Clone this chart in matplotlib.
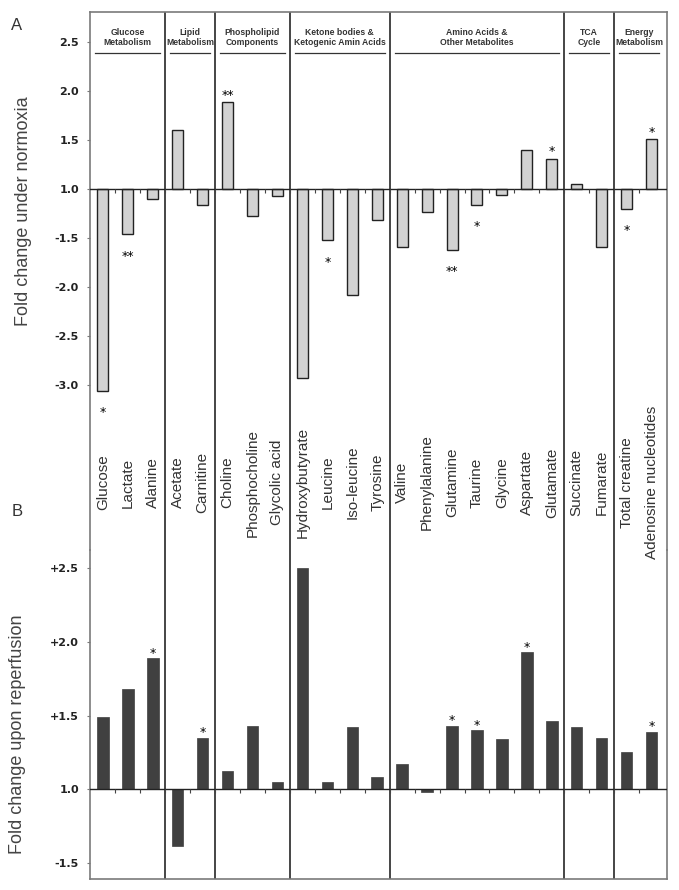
import matplotlib
matplotlib.use('Agg')
import numpy as np
import matplotlib.pyplot as plt

# metabolites, in plotting order
metabolites = ["Glucose", "Lactate", "Alanine",
               "Acetate", "Carnitine",
               "Choline", "Phosphocholine", "Glycolic acid",
               "Hydroxybutyrate", "Leucine", "Iso-leucine", "Tyrosine",
               "Valine", "Phenylalanine", "Glutamine", "Taurine", "Glycine", "Aspartate", "Glutamate",
               "Succinate", "Fumarate",
               "Total creatine", "Adenosine nucleotides"]

groups = ["Glucose\nMetabolism", "Lipid\nMetabolism", "Phospholipid\nComponents",
          "Ketone bodies &\nKetogenic Amin Acids", "Amino Acids &\nOther Metabolites",
          "TCA\nCycle", "Energy\nMetabolism"]
group_sizes = [3, 2, 3, 4, 7, 2, 2]

# fold changes
normoxia = [-3.06, -1.46, -1.10,
            1.60, -1.16,
            1.89, -1.28, -1.07,
            -2.93, -1.52, -2.08, -1.32,
            -1.59, -1.23, -1.62, -1.16, -1.06, 1.40, 1.31,
            1.05, -1.59,
            -1.20, 1.51]
reperfusion = [1.49, 1.68, 1.89,
               -1.39, 1.35,
               1.12, 1.43, 1.05,
               2.50, 1.05, 1.42, 1.08,
               1.17, -1.02, 1.43, 1.40, 1.34, 1.93, 1.46,
               1.42, 1.35,
               1.25, 1.39]

sig_normoxia = ["*", "**", "", "", "", "**", "", "", "", "*", "", "",
                "", "", "**", "*", "", "", "*", "", "", "*", "*"]
sig_reperfusion = ["", "", "*", "", "*", "", "", "", "", "", "", "",
                   "", "", "*", "*", "", "*", "", "", "", "", "*"]

ticks_a = [-3.0, -2.5, -2.0, -1.5, 1.0, 1.5, 2.0, 2.5]
ticks_b = [-1.5, 1.0, 1.5, 2.0, 2.5]
tick_labels_b = ["-1.5", "1.0", "+1.5", "+2.0", "+2.5"]


def to_axis(v):
    # fold change axis skips -1..1, so 1.0 / -1.0 both sit on the zero line
    v = np.asarray(v, dtype=float)
    return np.where(v >= 1, v - 1, v + 1)


frame_col = '#7a7a7a'
sep_col = '#454545'
text_col = '#333333'

fig = plt.figure(figsize=(6.79, 8.90), dpi=100)
axB = fig.add_axes([0.1325, 0.01236, 0.8498, 0.3697])
axA = fig.add_axes([0.1325, 0.382, 0.8498, 0.6045])
axA.patch.set_visible(False)
axB.patch.set_visible(False)

x = np.arange(len(metabolites))
bounds = np.cumsum(group_sizes)[:-1] - 0.5
starts = np.concatenate([[0], np.cumsum(group_sizes)[:-1]]) - 0.5
ends = np.cumsum(group_sizes) - 0.5

for ax in (axA, axB):
    ax.set_xlim(-0.52, 22.62)
    ax.set_xticks([])
    for b in bounds:
        ax.axvline(b, color=sep_col, lw=1.4, zorder=1)
    for s in ax.spines.values():
        s.set_color(frame_col)
        s.set_linewidth(1.2)
    ax.axhline(0, color='#222222', lw=1.0, zorder=3)
    ax.plot(x[:-1] + 0.5, np.zeros(len(x) - 1), ls='none', marker=3, ms=3,
            mew=0.8, color='#444444', zorder=3)
    ax.tick_params(axis='y', length=2, width=0.8, color=frame_col, pad=6,
                   labelsize=8, labelcolor='#222222')

# ---- panel A
axA.set_ylim(-3.69, 1.81)
axA.spines['bottom'].set_visible(False)
hA = to_axis(normoxia)
axA.bar(x, hA, 0.44, color='#d2d2d2', edgecolor='#222222', lw=1.0, zorder=2)
axA.set_yticks(to_axis(ticks_a))
axA.set_yticklabels(["%.1f" % t for t in ticks_a], fontweight='bold')
axA.set_ylabel("Fold change under normoxia", fontsize=13, color='#444444',
               family='Liberation Sans')
axA.yaxis.set_label_coords(-0.1, 0.63)

for xi, h, s in zip(x, hA, sig_normoxia):
    if s:
        dy = 2.5 if h > 0 else -18.5
        axA.annotate(s, (xi, h), xytext=(0, dy), textcoords='offset points',
                     ha='center', va='baseline', fontsize=9, color='black')

for g, s0, e0 in zip(groups, starts, ends):
    axA.text((s0 + e0) / 2, 1.55, g, ha='center', va='center', fontsize=6.2,
             fontweight='bold', family='Liberation Sans', color=text_col,
             linespacing=1.05)
    axA.plot([s0 + 0.2, e0 - 0.2], [1.39, 1.39], color='#333333', lw=0.9)

for xi, name in zip(x, metabolites):
    axA.text(xi, -3.0, name, rotation=90, ha='center', va='center',
             fontsize=11, family='Liberation Sans', color=text_col)

# ---- panel B
axB.set_ylim(-0.612, 1.626)
axB.spines['top'].set_visible(False)
hB = to_axis(reperfusion)
axB.bar(x, hB, 0.46, color='#404040', edgecolor='#404040', lw=0.5, zorder=2)
axB.set_yticks(to_axis(ticks_b))
axB.set_yticklabels(tick_labels_b, fontweight='bold')
axB.set_ylabel("Fold change upon reperfusion", fontsize=13, color='#444444',
               family='Liberation Sans')
axB.yaxis.set_label_coords(-0.11, 0.44)

for xi, h, s in zip(x, hB, sig_reperfusion):
    if s:
        axB.annotate(s, (xi, h), xytext=(0, 1), textcoords='offset points',
                     ha='center', va='baseline', fontsize=9, color='black')

fig.text(17 / 679, 1 - 25 / 890, "A", fontsize=12, family='Liberation Sans',
         color=text_col, ha='center', va='center')
fig.text(17 / 679, 1 - 512 / 890, "B", fontsize=12, family='Liberation Sans',
         color=text_col, ha='center', va='center')

fig.savefig('out.png', dpi=100)
